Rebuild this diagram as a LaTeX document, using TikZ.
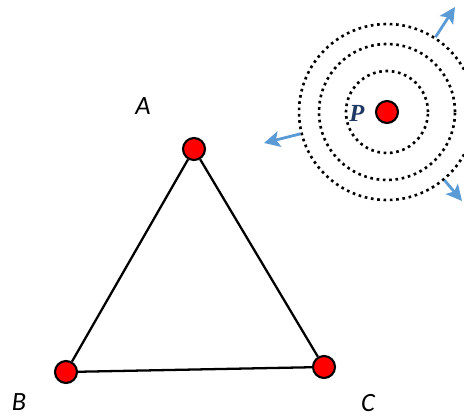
\documentclass[tikz,border=0pt]{standalone}
\usepackage{fontspec}
\setmainfont{Carlito}
\newfontfamily\pfont{Liberation Serif}
\usetikzlibrary{arrows.meta}
\definecolor{dotred}{HTML}{FF0000}
\definecolor{waveblue}{HTML}{5B9BD5}
\definecolor{pnavy}{HTML}{1F3864}

\begin{document}
\begin{tikzpicture}[x=0.02cm, y=-0.02cm,
    dot/.style={circle, draw, line width=1.2pt, fill=dotred, minimum size=0.44cm, inner sep=0pt},
    ring/.style={circle, draw, line width=1.5pt, dash pattern=on 1.5pt off 2.1pt, inner sep=0pt},
    ray/.style={draw=waveblue, line width=1.6pt, -{Stealth[length=9pt, width=9pt, inset=2pt]}},
    vlabel/.style={font=\fontsize{15}{17}\selectfont\itshape},
  ]
  \useasboundingbox (0,0) rectangle (464,416);
  % triangle
  \node[dot] (A) at (194,149) {};
  \node[dot] (B) at (66,372) {};
  \node[dot] (C) at (324,367) {};
  \draw[line width=1.3pt] (A) -- (B) -- (C) -- (A);
  \node[vlabel] (lA) at (143,106) {A};
  \node[vlabel] (lB) at (19,402) {B};
  \node[vlabel] (lC) at (368,403) {C};
  % source with wave fronts
  \node[dot] (P) at (387,112) {};
  \node[font=\pfont\fontsize{14}{16}\selectfont\bfseries\itshape, text=pnavy] (lP) at (357,113) {P};
  \node[ring, minimum size=1.64cm] (ring1) at (P) {};
  \node[ring, minimum size=2.72cm] (ring2) at (P) {};
  \node[ring, minimum size=3.52cm] (ring3) at (P) {};
  \coordinate (t1) at (455,7);
  \coordinate (t2) at (264,143);
  \coordinate (t3) at (462,201);
  \draw[ray] (ring3) -- (t1);
  \draw[ray] (ring3) -- (t2);
  \draw[ray] (ring3) -- (t3);
\end{tikzpicture}
\end{document}
